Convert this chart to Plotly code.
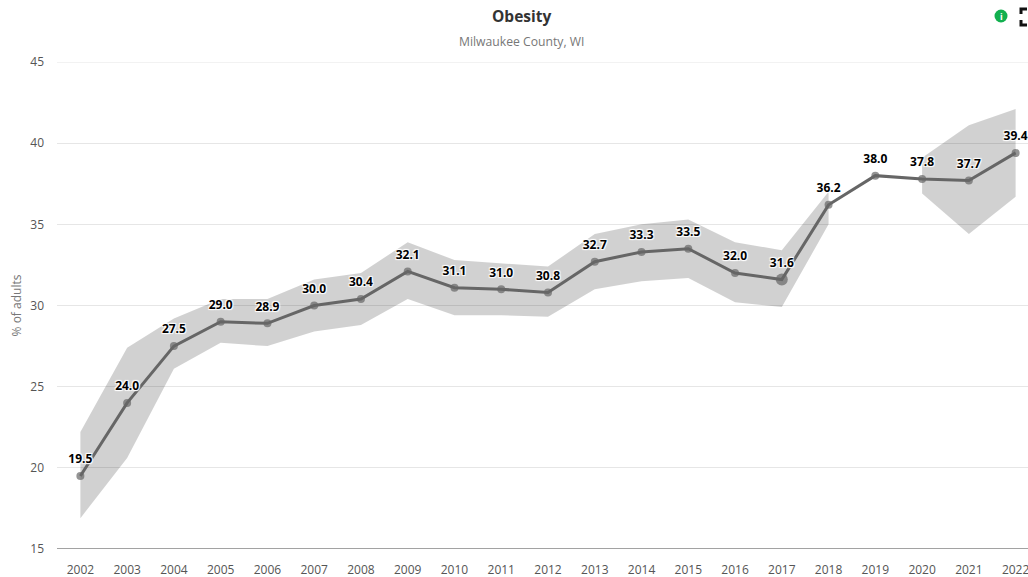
import plotly.graph_objects as go

years = list(range(2002, 2023))
values = [19.5, 24.0, 27.5, 29.0, 28.9, 30.0, 30.4, 32.1, 31.1, 31.0, 30.8,
          32.7, 33.3, 33.5, 32.0, 31.6, 36.2, 38.0, 37.8, 37.7, 39.4]
upper_a = [22.2, 27.4, 29.2, 30.4, 30.4, 31.6, 32.0, 33.9, 32.8, 32.6, 32.4,
           34.4, 35.0, 35.3, 33.9, 33.4, 37.0]
lower_a = [16.9, 20.6, 26.1, 27.7, 27.5, 28.4, 28.8, 30.4, 29.4, 29.4, 29.3,
           31.0, 31.5, 31.7, 30.2, 29.9, 35.0]
years_b = [2020, 2021, 2022]
upper_b = [39.1, 41.1, 42.1]
lower_b = [36.9, 34.4, 36.7]
y_ticks = [15, 20, 25, 30, 35, 40, 45]

FONT = "Open Sans"
FIG_W = 1039
years_a = years[:len(upper_a)]
band = dict(fill="toself", fillcolor="rgba(0,0,0,0.18)", mode="lines",
            line=dict(width=0), hoverinfo="skip", showlegend=False)

fig = go.Figure()
fig.add_trace(go.Scatter(x=years_a + years_a[::-1], y=upper_a + lower_a[::-1], **band))
fig.add_trace(go.Scatter(x=years_b + years_b[::-1], y=upper_b + lower_b[::-1], **band))
sizes = [12 if y == 2017 else 8 for y in years]
fig.add_trace(go.Scatter(
    x=years, y=values, mode="lines+markers",
    line=dict(color="#666666", width=3),
    marker=dict(color="#666666", size=sizes, line=dict(width=0)),
    cliponaxis=False, showlegend=False))
# labels sit on a transparent marker so their offset from the point is uniform
fig.add_trace(go.Scatter(
    x=years, y=values, mode="markers+text",
    marker=dict(size=14, opacity=0),
    text=[f"{v:.1f}" for v in values], textposition="top center",
    textfont=dict(family=FONT, size=12, color="#000000", weight=700,
                  shadow="1px 1px 1px #fff, -1px -1px 1px #fff, 1px -1px 1px #fff, -1px 1px 1px #fff"),
    cliponaxis=False, showlegend=False))

W, H = FIG_W - 57.0, 487.0
def px(x, y):
    return (x - 57) / W, 1 - (y - 62) / H

tx, _ = px(521, 0)
ix, iy = px(1001, 16)
_, ty = px(0, 16)
_, sy = px(0, 41)

fig.update_layout(
    width=FIG_W, height=577, autosize=False,
    margin=dict(l=57, r=0, t=62, b=28, autoexpand=False),
    paper_bgcolor="#ffffff", plot_bgcolor="#ffffff",
    font=dict(family=FONT, size=12, color="#555555"),
    xaxis=dict(range=[2001.5, 2022.5], tickmode="array", tickvals=years,
               showgrid=False, zeroline=False, showline=False, ticks="",
               ticklabelstandoff=12, automargin=False,
               tickfont=dict(size=12, color="#555555"), fixedrange=True),
    yaxis=dict(range=[15, 45], tickmode="array", tickvals=y_ticks,
               gridcolor="#e6e6e6", gridwidth=1, zeroline=False, ticks="",
               showline=False, ticklabelstandoff=12, automargin=False,
               tickfont=dict(size=12, color="#555555"),
               title=dict(text="% of adults", font=dict(size=12, color="#777777"), standoff=6),
               fixedrange=True),
    shapes=[
        dict(type="line", xref="paper", yref="y", x0=0, x1=1, y0=y_ticks[0], y1=y_ticks[0],
             line=dict(color="#444444", width=1)),
        dict(type="line", xref="paper", yref="y", x0=0, x1=1, y0=y_ticks[-1], y1=y_ticks[-1],
             line=dict(color="#e6e6e6", width=1)),
    ],
    annotations=[
        dict(text="<b>Obesity</b>", xref="paper", yref="paper", x=tx, y=ty,
             xanchor="center", yanchor="middle", showarrow=False,
             font=dict(size=15.5, color="#333333")),
        dict(text="Milwaukee County, WI", xref="paper", yref="paper", x=tx, y=sy,
             xanchor="center", yanchor="middle", showarrow=False,
             font=dict(size=12.2, color="#777777")),
        dict(text="<b>i</b>", xref="paper", yref="paper", x=ix, y=iy,
             xanchor="center", yanchor="middle", showarrow=False,
             font=dict(size=9, color="#ffffff")),
    ],
    hovermode=False,
)

x0, y0 = px(994.5, 9.5)
x1, y1 = px(1007.5, 22.5)
fig.add_shape(type="circle", xref="paper", yref="paper", x0=x0, y0=y1, x1=x1, y1=y0,
              fillcolor="#12b04f", line=dict(width=0), layer="below")

corners = [[(1027, 9), (1021, 9), (1021, 14)], [(1021, 20), (1021, 25), (1027, 25)]]
for c in corners:
    pts = [px(*p) for p in c]
    fig.add_shape(type="path", xref="paper", yref="paper",
                  path="M " + " L ".join(f"{a},{b}" for a, b in pts),
                  line=dict(color="#111111", width=3))

fig.write_html("out.html", config=dict(displayModeBar=False),
               post_script="document.body.style.margin='0';document.body.style.overflow='hidden';document.documentElement.style.overflow='hidden';")
